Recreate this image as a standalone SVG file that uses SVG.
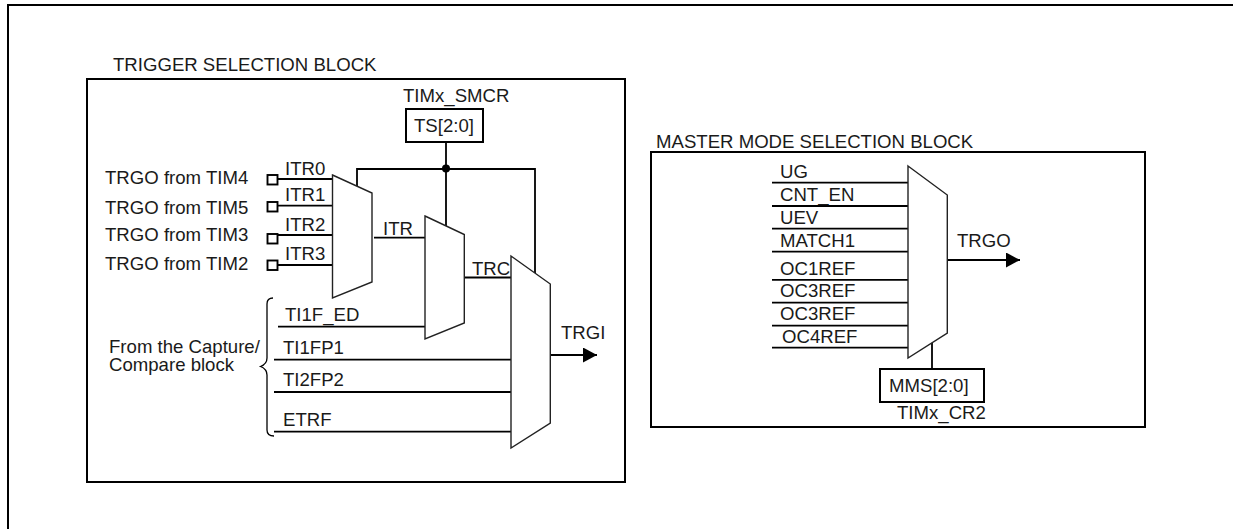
<svg xmlns="http://www.w3.org/2000/svg" width="1233" height="529" viewBox="0 0 1233 529">
<style>
text{font-family:"Liberation Sans",Arial,sans-serif;font-size:18.6px;fill:#1a1a1a}
.box{fill:none;stroke:#000;stroke-width:2}
.reg{fill:#fff;stroke:#000;stroke-width:2}
.mux{fill:#fff;stroke:#222;stroke-width:1.4}
.wire{fill:none;stroke:#000;stroke-width:1.8}
.pin{fill:#fff;stroke:#000;stroke-width:1.9}
</style>
<defs><marker id="arr" markerUnits="userSpaceOnUse" markerWidth="15" markerHeight="16" refX="14" refY="7.500" orient="auto"><path d="M0 0L14 7.500L0 15Z" fill="#000"/></marker></defs>
<rect width="1233" height="529" fill="#fff"/>
<g id="figure-frame"><path class="box" d="M8 529V5H1233"/></g>
<g id="trigger-block"><rect class="box" x="87" y="79" width="538" height="403"/><text x="113" y="71">TRIGGER SELECTION BLOCK</text></g>
<g id="master-block"><rect class="box" x="651" y="152" width="494" height="275"/><text x="656" y="147.500">MASTER MODE SELECTION BLOCK</text></g>
<g id="connectors">
<path class="wire" d="M277 179H333M277 205.700H333M277 235H333M277 265H333"/>
<path class="wire" d="M446 142V227M357 187V169H535V274"/>
<path class="wire" d="M374 237.700H426M464 277.500H512"/>
<path class="wire" d="M278 326.700H426M274 359.700H511M274 392H511M274 431.700H511"/>
<path class="wire" d="M550 355H597" marker-end="url(#arr)"/>
<path class="wire" d="M772 182.700H909M772 206H909M772 228.700H909M772 251.700H909M772 279.800H909M772 302.700H909M772 325.700H909M772 347.700H909"/>
<path class="wire" d="M947 260H1020" marker-end="url(#arr)"/>
<path class="wire" d="M932 342V369"/>
<path fill="none" stroke="#000" stroke-width="1.3" d="M273 298Q267 298 267 304V358Q267 364 260.500 366.500Q267 369 267 375V430Q267 436 274 436"/>
</g>
<g id="pins">
<rect class="pin" x="267.500" y="175" width="10" height="9.500"/>
<rect class="pin" x="267.500" y="202" width="10" height="9.500"/>
<rect class="pin" x="267.500" y="234" width="10" height="9.500"/>
<rect class="pin" x="267.500" y="260.500" width="10" height="9.500"/>
</g>
<g id="mux-itr"><path class="mux" d="M332.500 175L372 193V282L332.500 298Z"/></g>
<g id="mux-trc"><path class="mux" d="M425 216L464.300 234.500V323L425 339Z"/></g>
<g id="mux-trgi"><path class="mux" d="M511 256L550.300 284V423L511 448Z"/></g>
<g id="mux-trgo"><path class="mux" d="M908 166L947.300 195V333L908 358Z"/></g>
<g id="junction"><circle cx="446" cy="168.500" r="4" fill="#000"/></g>
<g id="ts-register"><rect class="reg" x="406" y="109" width="77" height="33"/><text x="414" y="132">TS[2:0]</text><text x="403" y="102">TIMx_SMCR</text></g>
<g id="mms-register"><rect class="reg" x="880" y="369" width="104" height="33"/><text x="889" y="392">MMS[2:0]</text><text x="897" y="419">TIMx_CR2</text></g>
<g id="labels">
<text x="105" y="184">TRGO from TIM4</text><text x="105" y="214">TRGO from TIM5</text><text x="105" y="241">TRGO from TIM3</text><text x="105" y="270">TRGO from TIM2</text>
<text x="285" y="175">ITR0</text><text x="285" y="201">ITR1</text><text x="285" y="231">ITR2</text><text x="285" y="260">ITR3</text>
<text x="383" y="235">ITR</text><text x="472" y="275">TRC</text>
<text x="285" y="321">TI1F_ED</text><text x="283" y="354">TI1FP1</text><text x="283" y="386">TI2FP2</text><text x="283" y="426">ETRF</text>
<text><tspan x="109" y="353">From the Capture/</tspan><tspan x="109" y="371">Compare block</tspan></text>
<text x="561" y="339">TRGI</text><text x="957" y="247">TRGO</text>
<text x="780" y="178">UG</text><text x="780" y="201">CNT_EN</text><text x="780" y="224">UEV</text><text x="780" y="247">MATCH1</text><text x="780" y="275">OC1REF</text><text x="780" y="297">OC3REF</text><text x="780" y="320">OC3REF</text><text x="782" y="343">OC4REF</text>
</g>
</svg>
